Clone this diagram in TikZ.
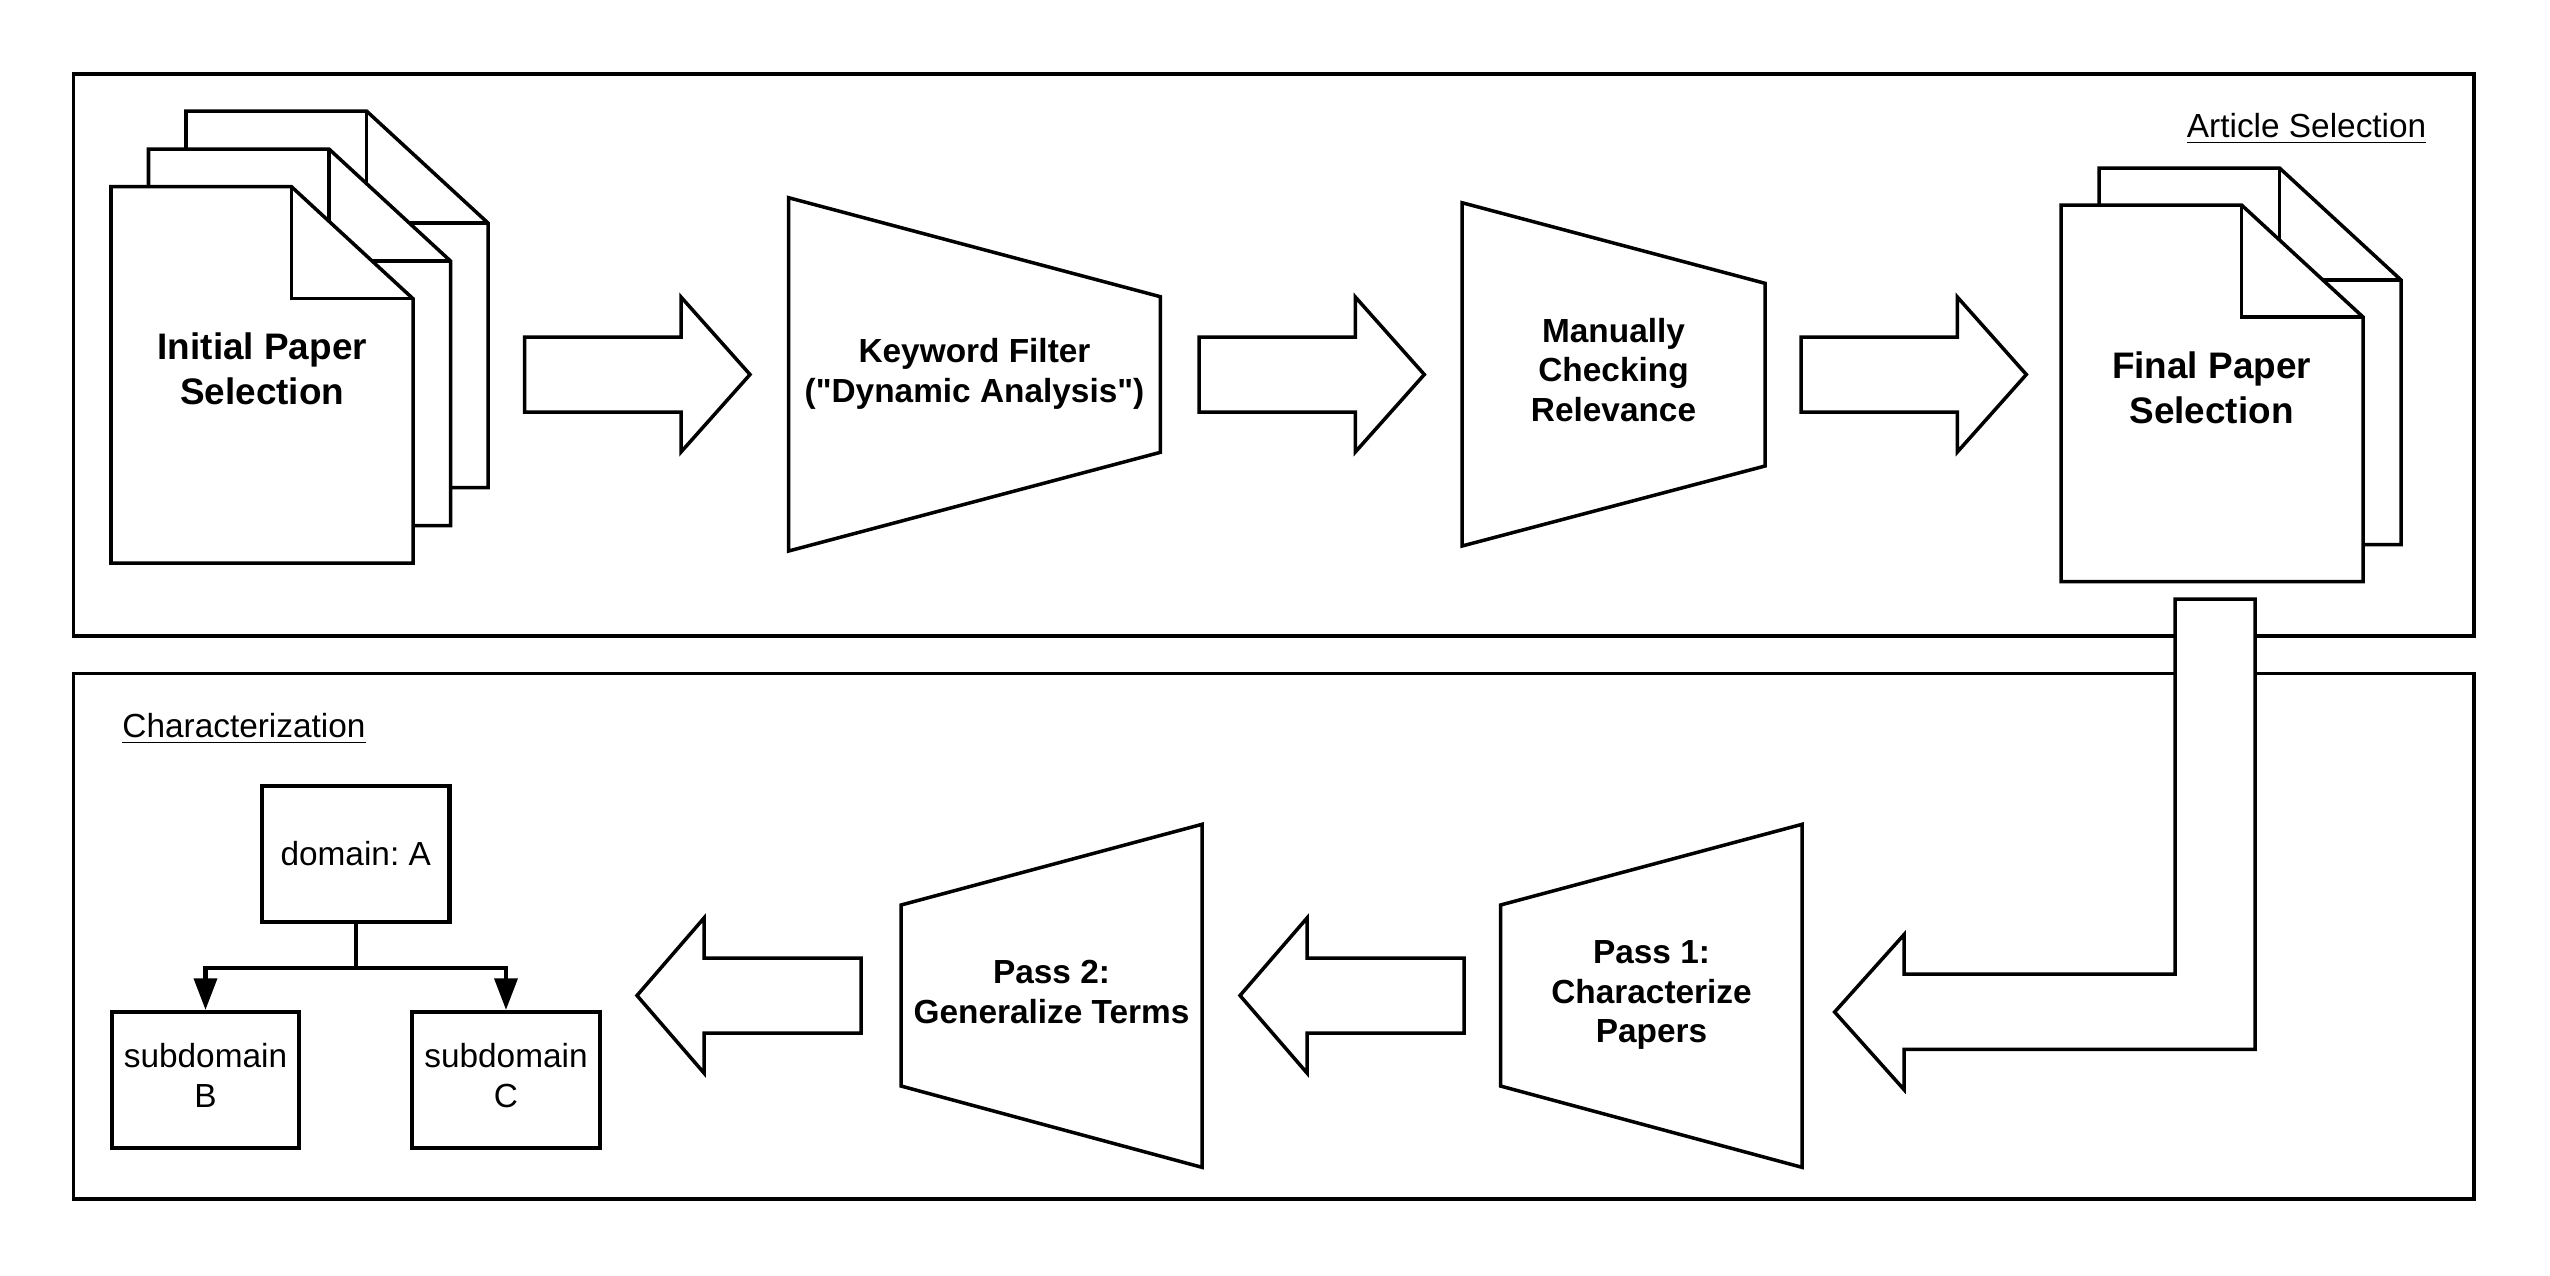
\documentclass[tikz,border=0pt]{standalone}
\usepackage{fontspec}
\setmainfont{Liberation Sans}
\usetikzlibrary{arrows.meta}
\frenchspacing
\newcommand\paperdoc[1]{%
\begin{scope}[shift={#1}]
\filldraw[blank] (0,0)--(1.805,0)--(3.02,1.12)--(3.02,3.765)--(0,3.765)--cycle;
\draw[outline] (1.805,0)--(1.805,1.12)--(3.02,1.12);
\end{scope}}
\newcommand\arrowright[1]{\filldraw[blank] #1 ++(0,-0.375) -- ++(1.563,0) -- ++(0,-0.4) -- ++(0.69,0.775) -- ++(-0.69,0.775) -- ++(0,-0.4) -- ++(-1.563,0) -- cycle;}
\newcommand\arrowleft[1]{\filldraw[blank] #1 -- ++(0.67,-0.775) -- ++(0,0.4) -- ++(1.57,0) -- ++(0,0.75) -- ++(-1.57,0) -- ++(0,0.4) -- cycle;}
\newcommand\twolines[2]{\raisebox{0.5mm}{\begin{tabular}{@{}c@{}}#1\\#2\end{tabular}}}
\begin{document}
\frenchspacing
\begin{tikzpicture}[x=1cm,y=-1cm,line join=miter,
  outline/.style={draw,line width=1pt},
  blank/.style={outline,fill=white},
  doctext/.style={font=\bfseries\fontsize{10.5}{12.9}\selectfont,align=center},
  stagetext/.style={font=\bfseries\fontsize{9.5}{11.3}\selectfont,align=center},
  plaintext/.style={font=\fontsize{9.5}{11.4}\selectfont,align=center,inner sep=0pt},
  treebox/.style={draw,line width=1.2pt,minimum width=1.875cm,minimum height=1.356cm,plaintext},
  >={Triangle[length=9pt,width=6.5pt]}]
\useasboundingbox (0,0) rectangle (25.5,12.75);
\draw[outline] (0.735,0.738) rectangle (24.74,6.36);
\draw[outline] (0.735,6.737) rectangle (24.74,11.99);
\node[plaintext,anchor=base east] (artsel) at (24.27,1.37) {\underline{Article Selection}};
\node[plaintext,anchor=base west] (charac) at (1.217,7.37) {\underline{Characterization}};
% article selection
\paperdoc{(1.86,1.11)}
\paperdoc{(1.485,1.49)}
\paperdoc{(1.11,1.867)}
\node[doctext] (init) at (2.623,3.69) {Initial Paper\\Selection};
\arrowright{(5.247,3.745)}
\filldraw[blank] (7.886,1.977)--(11.604,2.967)--(11.604,4.523)--(7.886,5.51)--cycle;
\node[stagetext] (kwf) at (9.745,3.735) {Keyword Filter\\(\textquotedbl Dynamic Analysis\textquotedbl)};
\arrowright{(11.99,3.745)}
\filldraw[blank] (14.62,2.027)--(17.65,2.833)--(17.65,4.66)--(14.62,5.46)--cycle;
\node[stagetext] (manual) at (16.135,3.70) {Manually\\Checking\\Relevance};
\arrowright{(18.01,3.745)}
\paperdoc{(20.99,1.68)}
\paperdoc{(20.61,2.05)}
\node[doctext] (final) at (22.115,3.88) {Final Paper\\Selection};
% characterization
\filldraw[blank] (18.346,10.12)--(19.04,9.346)--(19.04,9.74)--(21.75,9.74)--(21.75,5.99)--(22.55,5.99)
  --(22.55,10.494)--(19.04,10.494)--(19.04,10.896)--cycle;
\filldraw[blank] (15.005,9.05)--(18.02,8.243)--(18.02,11.673)--(15.005,10.86)--cycle;
\node[stagetext] (pass1) at (16.515,9.95) {Pass 1:\\Characterize\\Papers};
\arrowleft{(12.40,9.955)}
\filldraw[blank] (9.01,9.05)--(12.02,8.243)--(12.02,11.673)--(9.01,10.86)--cycle;
\node[stagetext] (pass2) at (10.515,9.92) {Pass 2:\\Generalize Terms};
\arrowleft{(6.37,9.955)}
\node[treebox] (dom) at (3.557,8.539) {domain: A};
\node[treebox] (subb) at (2.055,10.798) {\twolines{subdomain}{B}};
\node[treebox] (subc) at (5.06,10.798) {\twolines{subdomain}{C}};
\draw[line width=1.2pt] (dom.south) -- ++(0,0.443) coordinate (fork);
\draw[line width=1.2pt,->] (fork) -| (subb.north);
\draw[line width=1.2pt,->] (fork) -| (subc.north);
\end{tikzpicture}
\end{document}
